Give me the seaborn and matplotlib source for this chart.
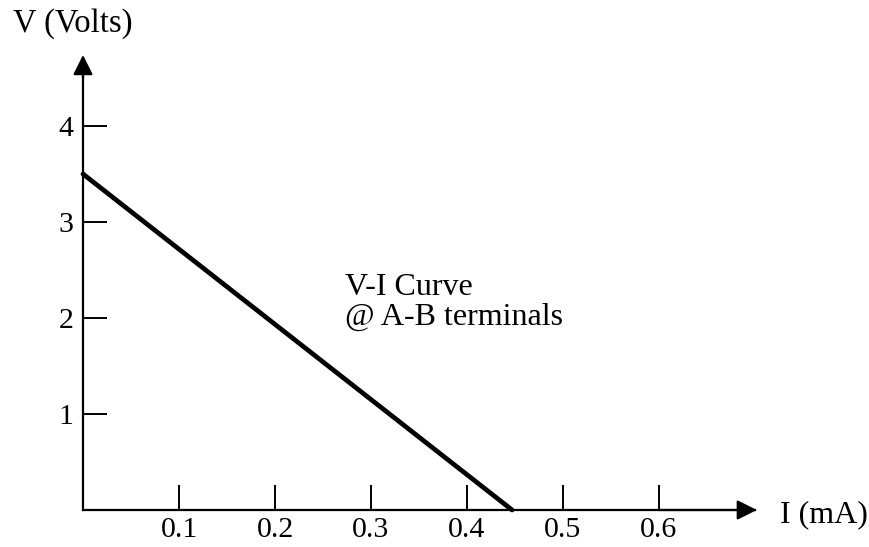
import matplotlib
matplotlib.use("Agg")
import matplotlib.pyplot as plt
import seaborn as sns
import pandas as pd

# Data
current_mA = [0.0, 0.447]
voltage_V = [3.5, 0.0]
x_ticks = [0.1, 0.2, 0.3, 0.4, 0.5, 0.6]
y_ticks = [1, 2, 3, 4]
x_label = "I (mA)"
y_label = "V (Volts)"
note_lines = ["V-I Curve", "@ A-B terminals"]

sns.set_theme(style="white")
plt.rcParams['font.family'] = ['Liberation Serif', 'DejaVu Serif']

fig = plt.figure(figsize=(8.7, 5.47), dpi=100)
ax = fig.add_axes([0, 0, 1, 1])
ax.set_xlim(-83 / 960, (870 - 83) / 960)
ax.set_ylim(-37 / 96, 510 / 96)

df = pd.DataFrame({"I": current_mA, "V": voltage_V})
sns.lineplot(data=df, x="I", y="V", ax=ax, color="black", lw=3.4)

for s in ["top", "right"]:
    ax.spines[s].set_visible(False)
for s in ["left", "bottom"]:
    ax.spines[s].set_position(("data", 0))
    ax.spines[s].set_linewidth(1.6)
    ax.spines[s].set_color("black")
ax.spines["bottom"].set_bounds(0, 0.70)
ax.spines["left"].set_bounds(0, 4.7)

# axis arrows
arrow_kw = dict(arrowstyle="-|>", lw=1.6, color="black",
                mutation_scale=30, shrinkA=0, shrinkB=0)
ax.annotate("", xy=(0.702, 0), xytext=(0.6, 0), arrowprops=arrow_kw)
ax.annotate("", xy=(0, 4.74), xytext=(0, 4.5), arrowprops=arrow_kw)

ax.set_xticks(x_ticks)
ax.set_xticklabels([f"{v:.1f}" for v in x_ticks])
ax.set_yticks(y_ticks)
ax.set_yticklabels([str(v) for v in y_ticks])
ax.tick_params(axis="x", direction="in", length=18, width=1.4, pad=5,
               labelsize=21.5, colors="black", bottom=True)
ax.tick_params(axis="y", direction="in", length=17, width=1.4, pad=7,
               labelsize=21.5, colors="black", left=True)

ax.set_xlabel("")
ax.set_ylabel("")
ax.text(-0.0729, 4.979, y_label, fontsize=23.5, ha="left", va="baseline", color="black")
ax.text(0.726, -0.125, x_label, fontsize=23, ha="left", va="baseline", color="black")
ax.text(0.273, 2.24, note_lines[0], fontsize=23, ha="left", va="baseline", color="black")
ax.text(0.273, 1.927, note_lines[1], fontsize=23, ha="left", va="baseline", color="black")

fig.savefig("out.png", dpi=100)
